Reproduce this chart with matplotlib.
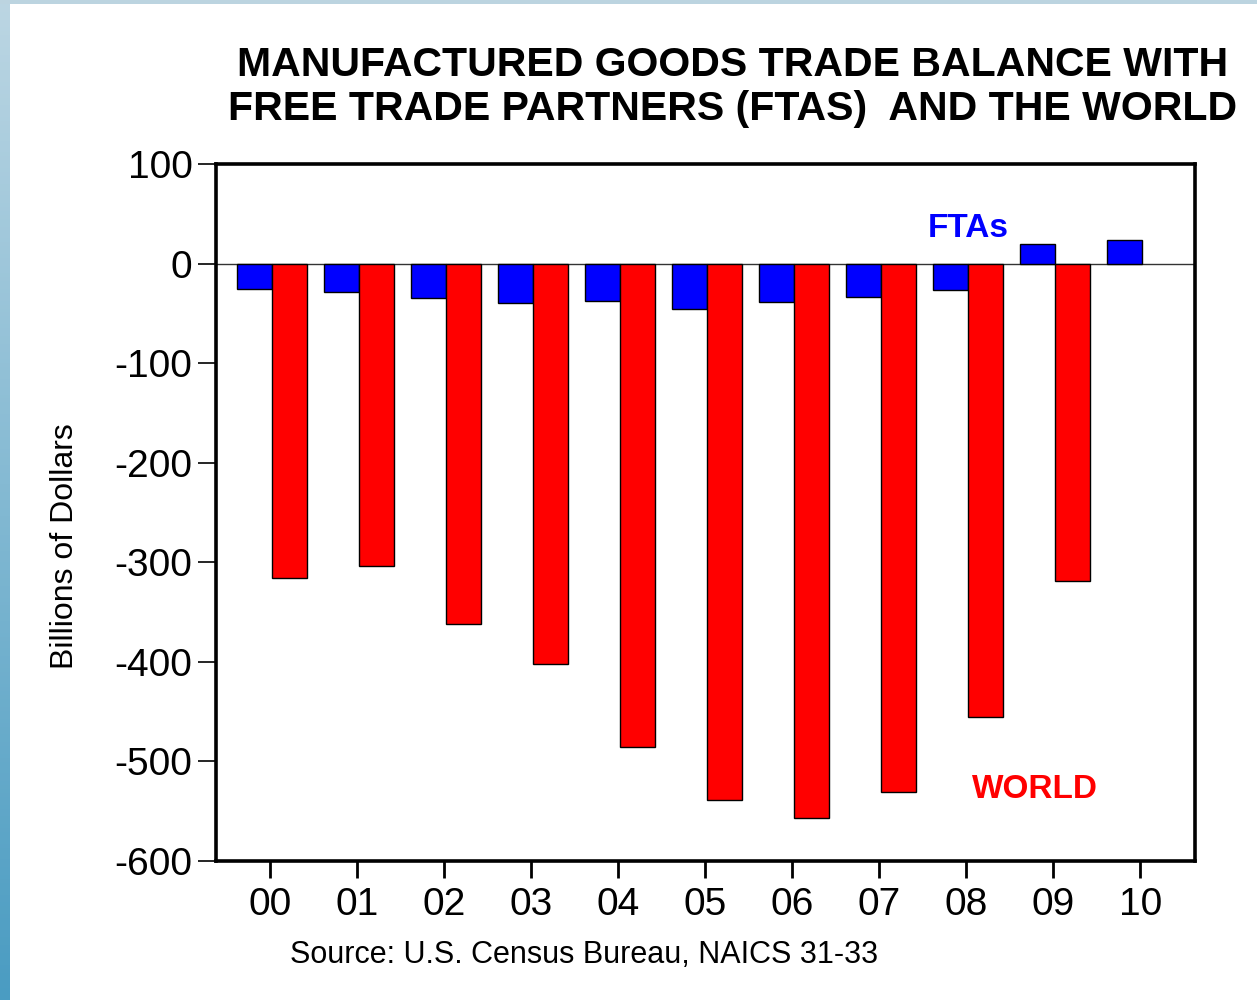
import matplotlib
matplotlib.use("Agg")
import matplotlib.pyplot as plt
import numpy as np
from matplotlib.colors import LinearSegmentedColormap

plt.rcParams["font.family"] = ["Liberation Sans", "DejaVu Sans"]

# 数据（十亿美元）
years = ["00", "01", "02", "03", "04", "05", "06", "07", "08", "09", "10"]
ftas = [-26, -29, -35, -40, -38, -46, -39, -34, -27, 20, 24]
world = [-316, -304, -362, -402, -486, -539, -557, -531, -455, -319, np.nan]
yticks = [100, 0, -100, -200, -300, -400, -500, -600]

fig = plt.figure(figsize=(12.57, 10), dpi=100)

# 左侧和顶部的蓝色装饰条
strip = fig.add_axes([0, 0, 10 / 1257, 1])
grad = np.linspace(0, 1, 256).reshape(-1, 1)
cmap = LinearSegmentedColormap.from_list("strip", ["#bcd6e3", "#4a9cc2"])
strip.imshow(grad, aspect="auto", cmap=cmap, origin="upper")
strip.axis("off")
top = fig.add_axes([0, 1 - 4 / 1000, 1, 4 / 1000])
top.set_facecolor("#bcd4e0")
top.set_xticks([])
top.set_yticks([])
for s in top.spines.values():
    s.set_visible(False)

ax = fig.add_axes([216 / 1257, 1 - 861 / 1000, (1195 - 216) / 1257, (861 - 164) / 1000])

x = np.arange(len(years))
w = 0.4
off = 0.02
ax.bar(x - w / 2 + off, ftas, width=w, color="#0000ff", edgecolor="black", linewidth=1.0, zorder=3)
ax.bar(x + w / 2 + off, world, width=w, color="#ff0000", edgecolor="black", linewidth=1.0, zorder=3)
ax.axhline(0, color="#333333", linewidth=1.0, zorder=2)

ax.set_xlim(-0.62, 10.63)
ax.set_ylim(-600, 100)
ax.set_yticks(yticks)
ax.set_yticklabels([str(v) for v in yticks])
ax.set_xticks(x)
ax.set_xticklabels(years)
ax.tick_params(axis="y", direction="out", length=13, width=1.2, labelsize=28, pad=4)
ax.tick_params(axis="x", direction="out", length=12, width=2, labelsize=28, pad=7)
for s in ax.spines.values():
    s.set_linewidth(2.6)

ax.set_ylabel("Billions of Dollars", fontsize=23)
ax.yaxis.set_label_coords((80 - 216) / 979, (861 - 546) / 697)

ax.text(8.02, 35, "FTAs", color="#0000ff", fontsize=24, fontweight="bold", ha="center", va="center")
ax.text(8.79, -528, "WORLD", color="#ff0000", fontsize=24, fontweight="bold", ha="center", va="center")

fig.text(733 / 1257, 1 - 87 / 1000,
         "MANUFACTURED GOODS TRADE BALANCE WITH\nFREE TRADE PARTNERS (FTAS)  AND THE WORLD",
         ha="center", va="center", fontsize=29.5, fontweight="bold", linespacing=1.2)
fig.text(584 / 1257, 1 - 955 / 1000, "Source: U.S. Census Bureau, NAICS 31-33",
         ha="center", va="center", fontsize=22)

fig.savefig("out.png", dpi=100)
